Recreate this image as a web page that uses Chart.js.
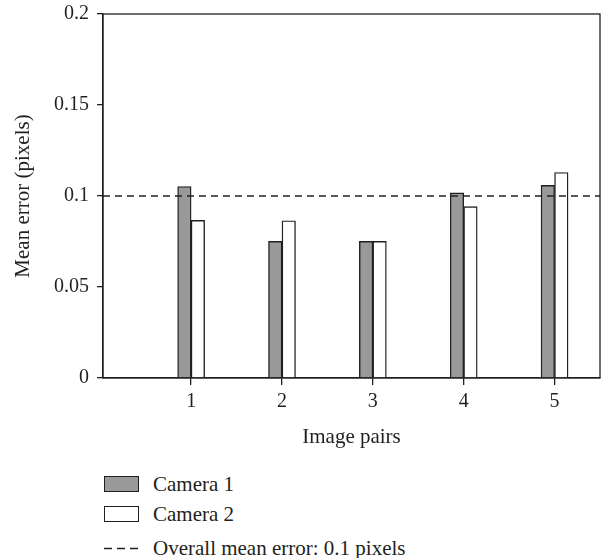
<!DOCTYPE html>
<html>
<head>
<meta charset="utf-8">
<script src="https://cdn.jsdelivr.net/npm/chart.js@4.4.1/dist/chart.umd.min.js"></script>
<style>
  html, body { margin: 0; padding: 0; background: #fff; }
  #wrap { position: relative; width: 611px; height: 558px; overflow: hidden; }
  #chart { position: absolute; left: 0; top: 0; }
  #legend { position: absolute; left: 104px; top: 469px; font-family: "Liberation Serif", "DejaVu Serif", serif; font-size: 21px; color: #231f20; }
  .row { display: flex; align-items: center; height: 30px; }
  .row.r3 { margin-top: 4px; }
  .sw { width: 35px; height: 16px; box-sizing: border-box; border: 1.5px solid #231f20; margin-right: 14px; flex: none; }
  .dash { width: 35px; height: 16px; margin-right: 14px; flex: none; }
</style>
</head>
<body>
<div id="wrap">
  <canvas id="chart" width="611" height="460"></canvas>
  <div id="legend"></div>
</div>
<script>
// ---- data ----
const pairs = [1, 2, 3, 4, 5];
const camera1 = [0.1052, 0.0751, 0.0751, 0.1017, 0.1058];
const camera2 = [0.0866, 0.0864, 0.0751, 0.0942, 0.1129];
const overallMean = 0.1;
const yTicks = [0, 0.05, 0.1, 0.15, 0.2];
const seriesLabels = ['Camera 1', 'Camera 2', 'Overall mean error: 0.1 pixels'];
const xTitle = 'Image pairs';
const yTitle = 'Mean error (pixels)';
const xMin = 0.03, xMax = 5.5;

const INK = '#231f20';
const GREY = '#999999';
const FONT = '"Liberation Serif", "DejaVu Serif", serif';

const framePlugin = {
  id: 'frame',
  afterDatasetsDraw(chart) {
    const { ctx, chartArea: a } = chart;
    ctx.save();
    ctx.strokeStyle = INK;
    ctx.lineWidth = 1.3;
    ctx.strokeRect(a.left, a.top, a.right - a.left, a.bottom - a.top);
    ctx.restore();
  }
};

const chart = new Chart(document.getElementById('chart'), {
  type: 'bar',
  data: {
    datasets: [
      {
        type: 'line',
        label: seriesLabels[2],
        data: [{ x: xMin, y: overallMean }, { x: xMax, y: overallMean }],
        borderColor: INK,
        borderWidth: 1.3,
        borderDash: [7, 5],
        pointRadius: 0,
        fill: false,
        order: -1
      },
      {
        label: seriesLabels[0],
        data: pairs.map((p, i) => ({ x: p, y: camera1[i] })),
        backgroundColor: GREY,
        borderColor: INK,
        borderWidth: 1.4,
        barThickness: 13.5,
        order: 1
      },
      {
        label: seriesLabels[1],
        data: pairs.map((p, i) => ({ x: p, y: camera2[i] })),
        backgroundColor: '#ffffff',
        borderColor: INK,
        borderWidth: 1.4,
        barThickness: 13.5,
        order: 1
      }
    ]
  },
  options: {
    responsive: false,
    animation: false,
    layout: { padding: { left: 0, right: 11, top: 14, bottom: 10 } },
    plugins: {
      legend: { display: false },
      tooltip: { enabled: false }
    },
    scales: {
      x: {
        type: 'linear',
        min: xMin,
        max: xMax,
        offset: false,
        afterBuildTicks: (s) => { s.ticks = pairs.map(v => ({ value: v })); },
        afterFit: (s) => { s.height = 72; s.paddingLeft = 0; s.paddingRight = 0; },
        border: { display: true, color: INK, width: 1.3 },
        grid: { display: true, drawOnChartArea: false, drawTicks: true, tickLength: 7, color: INK, lineWidth: 1.3, offset: false },
        ticks: { color: INK, font: { family: FONT, size: 20 }, padding: 5, maxRotation: 0,
                 callback: (v) => String(v) },
        title: { display: true, text: xTitle, color: INK, font: { family: FONT, size: 21 }, padding: { top: 0, bottom: 0 } }
      },
      y: {
        min: 0,
        max: 0.2,
        afterBuildTicks: (s) => { s.ticks = yTicks.map(v => ({ value: v })); },
        afterFit: (s) => { s.width = 103; s.paddingTop = 0; s.paddingBottom = 0; },
        border: { display: true, color: INK, width: 1.3 },
        grid: { display: true, drawOnChartArea: false, drawTicks: true, tickLength: 6, color: INK, lineWidth: 1.3 },
        ticks: { color: INK, font: { family: FONT, size: 20 }, padding: 8,
                 callback: (v) => String(Number(v.toFixed(2))) },
        title: { display: true, text: yTitle, color: INK, font: { family: FONT, size: 21 }, padding: { top: 11, bottom: 0 } }
      }
    }
  },
  plugins: [framePlugin]
});

// HTML legend built from the chart's datasets
(function buildLegend() {
  const el = document.getElementById('legend');
  const order = [1, 2, 0];
  order.forEach((idx, k) => {
    const ds = chart.data.datasets[idx];
    const row = document.createElement('div');
    row.className = 'row' + (k === 2 ? ' r3' : '');
    if (ds.type === 'line') {
      const c = document.createElement('canvas');
      c.className = 'dash'; c.width = 35; c.height = 16;
      const g = c.getContext('2d');
      g.strokeStyle = INK; g.lineWidth = 1.3; g.setLineDash([8, 5]);
      g.beginPath(); g.moveTo(0, 8.5); g.lineTo(35, 8.5); g.stroke();
      row.appendChild(c);
    } else {
      const sw = document.createElement('div');
      sw.className = 'sw';
      sw.style.background = ds.backgroundColor;
      row.appendChild(sw);
    }
    const t = document.createElement('span');
    t.textContent = ds.label;
    row.appendChild(t);
    el.appendChild(row);
  });
})();
</script>
</body>
</html>
